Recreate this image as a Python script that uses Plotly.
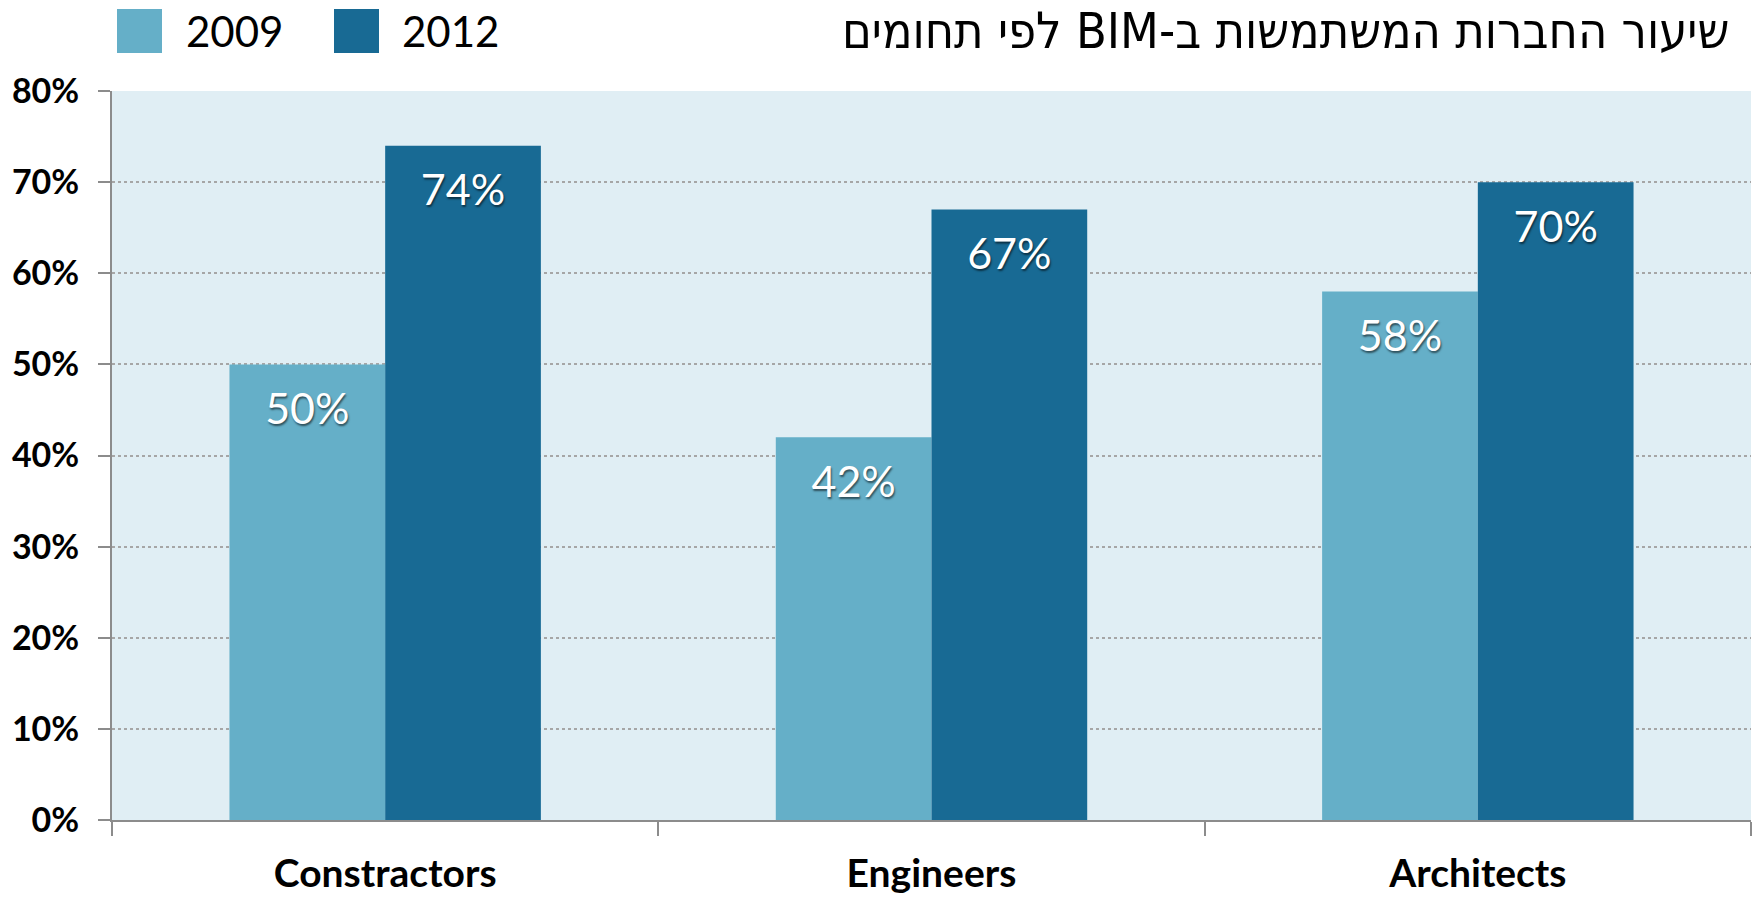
import plotly.graph_objects as go

categories = ["Constractors", "Engineers", "Architects"]
years = ["2009", "2012"]
values_2009 = [0.50, 0.42, 0.58]
values_2012 = [0.74, 0.67, 0.70]
y_ticks = [0, 0.1, 0.2, 0.3, 0.4, 0.5, 0.6, 0.7, 0.8]
y_tick_labels = ["0%", "10%", "20%", "30%", "40%", "50%", "60%", "70%", "80%"]
title_text = "\u202bשיעור החברות המשתמשות ב-BIM לפי תחומים\u202c"

colors = {"2009": "#65AFC8", "2012": "#186A94"}
series = {"2009": values_2009, "2012": values_2012}

W, H = 1758, 898
L, R, T, B = 112, 7, 91, 78
PW, PH = W - L - R, H - T - B

def px_x(px):
    return (px - L) / PW

def px_y(py):
    return (H - B - py) / PH

label_font = "Lato, 'Noto Sans', sans-serif"

fig = go.Figure()
for yr in years:
    fig.add_trace(go.Bar(
        x=categories, y=series[yr], name=yr, offsetgroup=yr,
        marker=dict(color=colors[yr], line=dict(width=0)),
        showlegend=False, hoverinfo="skip",
    ))
for yr in years:
    fig.add_trace(go.Scatter(
        x=categories, y=series[yr], offsetgroup=yr, mode="markers+text",
        marker=dict(size=42, opacity=0),
        text=[f"{round(v*100)}%" for v in series[yr]],
        textposition="bottom center",
        textfont=dict(family=label_font, size=43, color="white",
                      shadow="1px 2px 2px rgba(0,0,0,0.55)"),
        showlegend=False, hoverinfo="skip", cliponaxis=False,
    ))

shapes = []
annotations = []
# custom legend
legend_items = [("2009", 117, 184), ("2012", 334, 400)]
for yr, sq_x, tx_x in legend_items:
    shapes.append(dict(type="rect", xref="paper", yref="paper",
                       x0=px_x(sq_x), x1=px_x(sq_x + 45),
                       y0=px_y(9), y1=px_y(53),
                       fillcolor=colors[yr], line=dict(width=0)))
    annotations.append(dict(xref="paper", yref="paper", x=px_x(tx_x), y=px_y(31),
                            xanchor="left", yanchor="middle", showarrow=False,
                            text=yr, font=dict(family=label_font, size=42, color="black")))

annotations.append(dict(xref="paper", yref="paper", x=px_x(1731), y=px_y(31),
                        xanchor="right", yanchor="middle", showarrow=False,
                        text=title_text,
                        font=dict(family="'Liberation Sans Narrow', 'Arial Narrow', 'DejaVu Sans Condensed', sans-serif",
                                  size=50, color="black")))

fig.update_layout(
    width=W, height=H,
    margin=dict(l=L, r=R, t=T, b=B, pad=0, autoexpand=False),
    paper_bgcolor="white",
    plot_bgcolor="#E0EEF4",
    barmode="group", bargap=0.43, bargroupgap=0,
    scattermode="group", scattergap=0.43,
    showlegend=False,
    shapes=shapes,
    annotations=annotations,
    xaxis=dict(
        type="category", showgrid=False, zeroline=False, automargin=False,
        showline=True, linecolor="#8C8C8C", linewidth=2,
        ticks="outside", tickson="boundaries", ticklen=14, tickwidth=2, tickcolor="#8C8C8C",
        tickfont=dict(family=label_font, size=39, color="black", weight="bold"),
        ticklabelstandoff=18,
    ),
    yaxis=dict(
        range=[0, 0.8], tickvals=y_ticks, ticktext=y_tick_labels, automargin=False,
        showgrid=True, gridcolor="#A6A6A6", gridwidth=2, griddash="dot",
        zeroline=False,
        showline=True, linecolor="#8C8C8C", linewidth=2,
        ticks="outside", ticklen=12, tickwidth=2, tickcolor="#8C8C8C",
        tickfont=dict(family=label_font, size=34, color="black", weight="bold"),
        ticklabelstandoff=12,
    ),
)

fig.write_html("out.html")
